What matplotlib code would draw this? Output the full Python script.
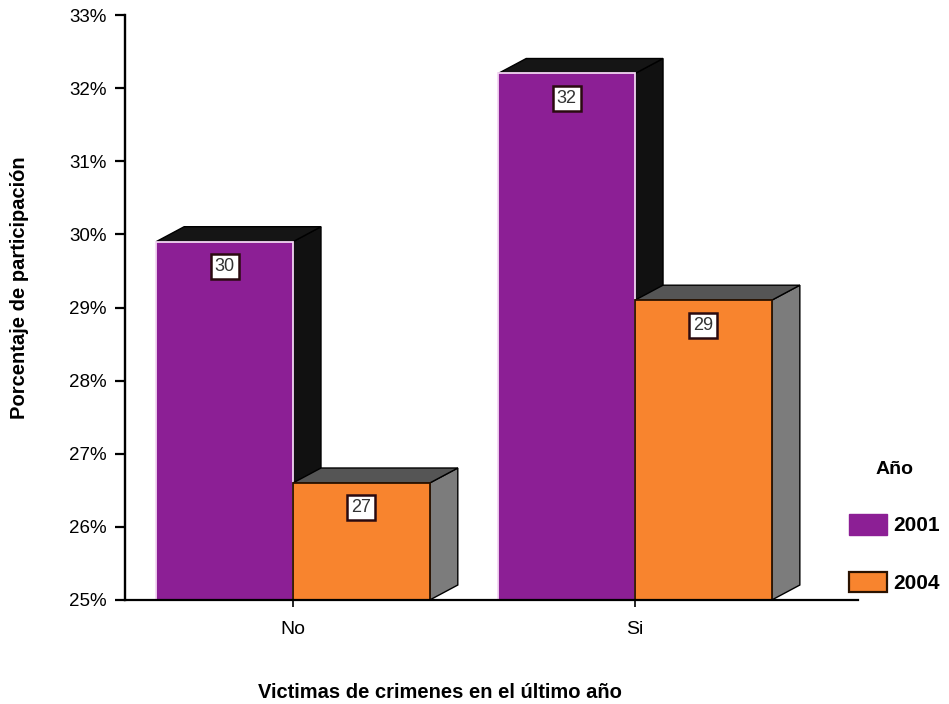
import matplotlib.pyplot as plt
from matplotlib.patches import Polygon, Patch

plt.rcParams['font.family'] = ['Liberation Sans', 'DejaVu Sans']

# datos
categorias = ['No', 'Si']
anios = ['2001', '2004']
valores_2001 = [29.9, 32.2]
valores_2004 = [26.6, 29.1]
etiquetas_2001 = ['30', '32']
etiquetas_2004 = ['27', '29']
yticks = [25, 26, 27, 28, 29, 30, 31, 32, 33]

# estilo
MORADO = '#8c1f95'
NARANJA = '#f8842e'
BASE = 25
W = 0.40      # ancho de barra
DX = 0.082    # profundidad en x
DY = 0.205    # profundidad en y

fig = plt.figure(figsize=(9.49, 7.04), dpi=100)
ax = fig.add_axes([125 / 949, 104 / 704, (858 - 125) / 949, 585 / 704])


def barra_3d(x0, v, frente, tapa, lado, borde, texto):
    lado_poly = [(x0 + W, BASE), (x0 + W + DX, BASE + DY),
                 (x0 + W + DX, v + DY), (x0 + W, v)]
    tapa_poly = [(x0, v), (x0 + DX, v + DY), (x0 + W + DX, v + DY), (x0 + W, v)]
    ax.add_patch(Polygon(lado_poly, fc=lado, ec='black', lw=1, clip_on=False))
    ax.add_patch(Polygon(tapa_poly, fc=tapa, ec='black', lw=1, clip_on=False))
    ax.bar(x0, v - BASE, bottom=BASE, width=W, align='edge',
           color=frente, edgecolor=borde, lw=1.3, clip_on=False)
    ax.text(x0 + W / 2, v - 0.34, texto, ha='center', va='center',
            fontsize=13, color='#333333',
            bbox=dict(boxstyle='square,pad=0.22', fc='white', ec='#2a0a10', lw=1.8))


for i in range(len(categorias)):
    barra_3d(i - W, valores_2001[i], MORADO, '#151515', '#111111', '#f3d6f3', etiquetas_2001[i])
    barra_3d(i, valores_2004[i], NARANJA, '#555555', '#7c7c7c', '#2a1200', etiquetas_2004[i])

ax.set_ylim(25, 33)
ax.set_xlim(-0.491, 1.652)
ax.set_yticks(yticks)
ax.set_yticklabels([f'{t}%' for t in yticks], fontsize=13.5)
ax.set_xticks(range(len(categorias)))
ax.set_xticklabels(categorias, fontsize=14)
ax.tick_params(axis='y', length=7, width=1.6, pad=6)
ax.tick_params(axis='x', length=5, width=1.2, pad=10)
for s in ['top', 'right']:
    ax.spines[s].set_visible(False)
ax.spines['left'].set_linewidth(1.7)
ax.spines['bottom'].set_linewidth(1.6)

fig.text(20 / 949, 1 - 288 / 704, 'Porcentaje de participación', rotation=90,
         ha='center', va='center', fontsize=14.5, fontweight='bold')
fig.text(440 / 949, 1 - 692 / 704, 'Victimas de crimenes en el último año',
         ha='center', va='center', fontsize=14.5, fontweight='bold')

handles = [Patch(fc=MORADO, ec=MORADO), Patch(fc=NARANJA, ec='#2a1200', lw=1.6)]
leg = fig.legend(handles, anios, loc='upper left', bbox_to_anchor=(830 / 949, 1 - 442 / 704),
                 frameon=False, title='Año', prop={'weight': 'bold', 'size': 15},
                 title_fontproperties={'weight': 'bold', 'size': 14},
                 handlelength=1.85, handleheight=1.15, labelspacing=1.75, handletextpad=0.3)
leg._legend_box.sep = 26

fig.savefig('out.png', dpi=100)
